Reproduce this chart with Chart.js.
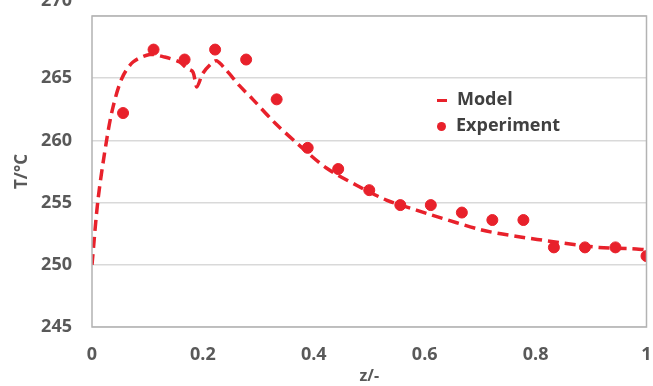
<!DOCTYPE html>
<html>
<head>
<meta charset="utf-8">
<script src="https://cdn.jsdelivr.net/npm/chart.js@4.4.0/dist/chart.umd.min.js"></script>
<style>
  body { margin: 0; background: #fff; }
  #wrap { position: relative; width: 653px; height: 386px; overflow: hidden; }
  #legend { position: absolute; left: 436px; top: 85px; font: bold 18px "Open Sans", sans-serif; color: #404040; }
  #legend div { height: 26px; line-height: 26px; white-space: nowrap; }
  #legend .dash { display: inline-block; width: 10px; height: 3px; background: #e8212b; vertical-align: middle; margin: 0 10px 0 1px; }
  #legend .dot { display: inline-block; width: 9px; height: 9px; border-radius: 50%; background: #e8212b; vertical-align: middle; margin: 0 10px 0 1px; }
</style>
</head>
<body>
<div id="wrap">
  <canvas id="tcanvas"></canvas>
  <div id="legend">
    <div><span class="dash"></span>Model</div>
    <div><span class="dot"></span>Experiment</div>
  </div>
</div>
<script>
// model curve
var modelZ = [0, 0.011, 0.027, 0.038, 0.054, 0.074, 0.104, 0.131, 0.158, 0.171, 0.182, 0.189, 0.2, 0.216, 0.225, 0.243, 0.266, 0.29, 0.33, 0.374, 0.422, 0.477, 0.531, 0.585, 0.613, 0.703, 0.764, 0.842, 0.914, 0.973, 1];
var modelT = [250, 255.3, 260.2, 262.7, 265, 266.3, 266.9, 266.7, 266.3, 265.8, 265.5, 264.3, 265.4, 266.2, 266.4, 265.6, 264.4, 263.3, 261.4, 259.6, 257.8, 256.4, 255.2, 254.4, 254.0, 252.8, 252.3, 251.8, 251.4, 251.3, 251.2];

// measured points
var expZ = [0.056, 0.111, 0.167, 0.222, 0.278, 0.333, 0.389, 0.444, 0.5, 0.556, 0.611, 0.667, 0.722, 0.778, 0.833, 0.889, 0.944, 1];
var expT = [262.2, 267.3, 266.5, 267.3, 266.5, 263.3, 259.4, 257.7, 256.0, 254.8, 254.8, 254.2, 253.6, 253.6, 251.4, 251.4, 251.4, 250.7];

var yTicks = [245, 250, 255, 260, 265, 270];

function toXY(xs, ys) {
    var out = [];
    xs.forEach(function(x, i){ out.push({x: x, y: ys[i]}); });
    return out;
}

var red = '#e8212b';
var tickFont = {family: 'Open Sans', size: 18, weight: 'bold'};

// frame round the plot + the half-cut 270 label at the top
var framePlugin = {
    id: 'frame',
    afterDraw: function(chart) {
        var a = chart.chartArea, ctx = chart.ctx;
        ctx.save();
        ctx.strokeStyle = '#b3b3b3';
        ctx.lineWidth = 1.5;
        ctx.strokeRect(a.left, a.top, a.right - a.left, a.bottom - a.top);
        ctx.fillStyle = '#595959';
        ctx.font = 'bold 18px "Open Sans"';
        ctx.textAlign = 'right';
        ctx.textBaseline = 'middle';
        ctx.fillText(String(yTicks[yTicks.length - 1]), 72, 1);
        ctx.restore();
    }
};

var tconfig = {
    type: 'scatter',
    data: {
        datasets: [{
            label: 'Model',
            data: toXY(modelZ, modelT),
            showLine: true,
            borderColor: red,
            borderWidth: 3.5,
            borderDash: [11, 6],
            pointRadius: 0,
            tension: 0.3,
            order: 2
        }, {
            label: 'Experiment',
            data: toXY(expZ, expT),
            backgroundColor: red,
            borderColor: red,
            pointRadius: 5.5,
            order: 1
        }]
    },
    options: {
        responsive: true,
        maintainAspectRatio: false,
        animation: false,
        layout: {padding: {top: 16, right: 5, left: 0, bottom: 0}},
        plugins: {legend: {display: false}, tooltip: {enabled: false}},
        scales: {
            x: {
                type: 'linear', min: 0, max: 1,
                ticks: {
                    stepSize: 0.2, color: '#595959', font: tickFont, padding: 17,
                    callback: function(v) { return String(Math.round(v * 10) / 10); }
                },
                grid: {display: false, drawTicks: false},
                border: {display: false},
                title: {display: true, text: 'z/-', color: '#595959', font: {family: 'Open Sans', size: 16, weight: 'bold'}, padding: {top: 0, bottom: 0}},
                afterFit: function(s) { s.height = 59; s.paddingLeft = 0; s.paddingRight = 0; }
            },
            y: {
                min: 245, max: 270,
                ticks: {
                    stepSize: 5, color: '#595959', font: tickFont, padding: 20,
                    callback: function(v) { return v === 270 ? '' : v; }
                },
                grid: {color: '#d9d9d9', lineWidth: 1.5, drawTicks: false},
                border: {display: false},
                title: {display: true, text: 'T/°C', color: '#595959', font: {family: 'Open Sans', size: 17, weight: 'bold'}, padding: {top: 12, bottom: 0}},
                afterFit: function(s) { s.width = 92; s.paddingTop = 0; s.paddingBottom = 0; }
            }
        }
    },
    plugins: [framePlugin]
};

var tctx = document.getElementById('tcanvas').getContext('2d');
var tchart = new Chart(tctx, tconfig);
</script>
</body>
</html>
